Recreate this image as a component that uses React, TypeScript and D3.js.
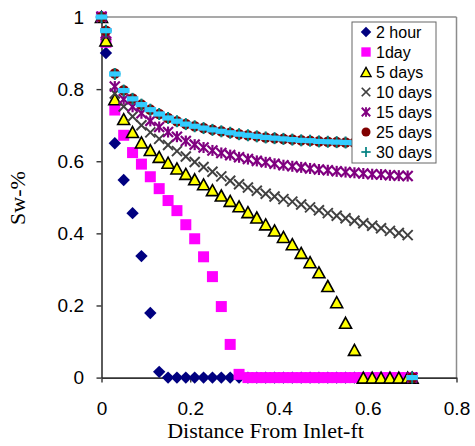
import React, { useEffect, useRef } from 'react';
import * as d3 from 'd3';

// distance from inlet (ft): inlet boundary, block centres, outlet boundary
const distance = [
  0, 0.01, 0.03, 0.05, 0.07, 0.09, 0.11, 0.13, 0.15, 0.17,
  0.19, 0.21, 0.23, 0.25, 0.27, 0.29, 0.31, 0.33, 0.35, 0.37,
  0.39, 0.41, 0.43, 0.45, 0.47, 0.49, 0.51, 0.53, 0.55, 0.57,
  0.59, 0.61, 0.63, 0.65, 0.67, 0.69, 0.7,
];

const hour2 = [
  1, 0.9, 0.65, 0.548, 0.456, 0.337, 0.179, 0.016, 0, 0,
  0, 0, 0, 0, 0, 0, 0, 0, 0, 0,
  0, 0, 0, 0, 0, 0, 0, 0, 0, 0,
  0, 0, 0, 0, 0, 0, 0,
];

const day1 = [
  1, 0.93, 0.742, 0.672, 0.624, 0.592, 0.557, 0.524, 0.491, 0.463,
  0.424, 0.385, 0.335, 0.28, 0.197, 0.092, 0.009, 0, 0, 0,
  0, 0, 0, 0, 0, 0, 0, 0, 0, 0,
  0, 0, 0, 0, 0, 0, 0,
];

const day5 = [
  1, 0.935, 0.772, 0.717, 0.681, 0.652, 0.631, 0.612, 0.596, 0.58,
  0.565, 0.55, 0.536, 0.52, 0.505, 0.49, 0.475, 0.459, 0.444, 0.425,
  0.408, 0.39, 0.37, 0.346, 0.32, 0.292, 0.254, 0.209, 0.152, 0.077,
  0, 0, 0, 0, 0, 0, 0,
];

const day10 = [
  1, 0.95, 0.788, 0.752, 0.724, 0.7, 0.68, 0.662, 0.645, 0.628,
  0.613, 0.598, 0.584, 0.571, 0.558, 0.546, 0.536, 0.527, 0.518, 0.51,
  0.502, 0.495, 0.488, 0.48, 0.472, 0.464, 0.456, 0.449, 0.442, 0.435,
  0.428, 0.421, 0.414, 0.407, 0.401, 0.395, 0,
];

const day15 = [
  1, 0.955, 0.807, 0.772, 0.751, 0.733, 0.712, 0.695, 0.681, 0.668,
  0.656, 0.646, 0.638, 0.63, 0.623, 0.617, 0.611, 0.606, 0.601, 0.597,
  0.593, 0.589, 0.586, 0.583, 0.58, 0.577, 0.575, 0.572, 0.57, 0.568,
  0.566, 0.564, 0.563, 0.561, 0.56, 0.559, 0,
];

const day25 = [
  1, 0.962, 0.843, 0.797, 0.774, 0.757, 0.743, 0.731, 0.72, 0.711,
  0.703, 0.697, 0.692, 0.687, 0.683, 0.679, 0.675, 0.672, 0.669, 0.666,
  0.664, 0.662, 0.66, 0.658, 0.657, 0.655, 0.654, 0.653, 0.652, 0.651,
  0.65, 0.649, 0.648, 0.647, 0.646, 0.645, 0,
];

const day30 = [
  1, 0.962, 0.842, 0.796, 0.773, 0.757, 0.743, 0.731, 0.72, 0.711,
  0.703, 0.697, 0.692, 0.687, 0.683, 0.679, 0.675, 0.672, 0.669, 0.666,
  0.664, 0.662, 0.66, 0.658, 0.657, 0.655, 0.654, 0.653, 0.652, 0.651,
  0.65, 0.649, 0.648, 0.647, 0.646, 0.645, 0,
];

const seriesNames = ['2 hour', '1day', '5 days', '10 days', '15 days', '25 days', '30 days'];
const seriesValues = [hour2, day1, day5, day10, day15, day25, day30];
const markerTypes = ['diamond', 'square', 'triangle', 'cross', 'star', 'circle', 'plus'];

const xTicks = [0, 0.2, 0.4, 0.6, 0.8];
const yTicks = [0, 0.2, 0.4, 0.6, 0.8, 1];

const sans = 'Liberation Sans, Arial, sans-serif';
const serif = 'Liberation Serif, Times New Roman, serif';

// draws one marker into g, centred on (cx, cy)
function marker(g, type, cx, cy, k = 1, legend = false) {
  const m = g.append('g').attr('transform', `translate(${cx},${cy}) scale(${k})`);
  const line = (x1, y1, x2, y2, color, w) =>
    m.append('line').attr('x1', x1).attr('y1', y1).attr('x2', x2).attr('y2', y2)
      .attr('stroke', color).attr('stroke-width', w);

  if (type === 'diamond') {
    m.append('path').attr('d', 'M0,-6.2L6.2,0L0,6.2L-6.2,0Z').attr('fill', '#000080');
  } else if (type === 'square') {
    m.append('rect').attr('x', -5.5).attr('y', -5.5).attr('width', 11).attr('height', 11).attr('fill', '#ff00ff');
  } else if (type === 'triangle') {
    m.append('path').attr('d', 'M0,-5.5L6,5.5L-6,5.5Z')
      .attr('fill', '#ffff00').attr('stroke', '#000').attr('stroke-width', 1.6).attr('stroke-linejoin', 'miter');
  } else if (type === 'cross') {
    line(-5, -5, 5, 5, '#404040', 2);
    line(-5, 5, 5, -5, '#404040', 2);
  } else if (type === 'star') {
    line(-5, -5, 5, 5, '#800080', 2.2);
    line(-5, 5, 5, -5, '#800080', 2.2);
    line(0, -5.5, 0, 5.5, '#800080', 2.2);
  } else if (type === 'circle') {
    m.append('circle').attr('r', 5.3).attr('fill', '#800000');
  } else if (type === 'plus') {
    line(-5.5, 0, 5.5, 0, '#008080', 2);
    line(0, -6, 0, 6, '#008080', 2);
    if (!legend) {
      m.append('rect').attr('x', -5.8).attr('y', -2.6).attr('width', 11.6).attr('height', 5.2).attr('fill', '#33ccff');
    }
  }
}

const App = () => {
  const svgRef = useRef(null);

  useEffect(() => {
    const svg = d3.select(svgRef.current);
    svg.selectAll('*').remove();

    const x = d3.scaleLinear().domain([0, 0.8]).range([101.5, 456.5]);
    const y = d3.scaleLinear().domain([0, 1]).range([377.6, 17]);

    // plot frame (top / right in grey)
    svg.append('line').attr('x1', x(0)).attr('x2', x(0.8)).attr('y1', y(1)).attr('y2', y(1))
      .attr('stroke', '#8c8c8c').attr('stroke-width', 1.5);
    svg.append('line').attr('x1', x(0.8)).attr('x2', x(0.8)).attr('y1', y(1)).attr('y2', y(0))
      .attr('stroke', '#8c8c8c').attr('stroke-width', 1.5);

    const yAxis = svg.append('g')
      .attr('transform', `translate(${x(0)},0)`)
      .call(d3.axisLeft(y).tickValues(yTicks).tickSize(5).tickSizeOuter(0).tickPadding(12.5)
        .tickFormat(d => String(d)));
    yAxis.select('.domain').attr('stroke', '#333').attr('stroke-width', 1.6);
    yAxis.selectAll('.tick line').attr('stroke', '#333').attr('stroke-width', 1.4);
    yAxis.selectAll('.tick text').attr('font-family', sans).attr('font-size', 19).attr('fill', '#000');

    const xAxis = svg.append('g')
      .attr('transform', `translate(0,${y(0)})`)
      .call(d3.axisBottom(x).tickValues(xTicks).tickSize(5).tickSizeOuter(0).tickPadding(19)
        .tickFormat(d => String(d)));
    xAxis.select('.domain').attr('stroke', '#333').attr('stroke-width', 1.6);
    xAxis.selectAll('.tick line').attr('stroke', '#333').attr('stroke-width', 1.4);
    xAxis.selectAll('.tick text').attr('font-family', sans).attr('font-size', 19).attr('fill', '#000');

    // series, later ones drawn on top
    const plot = svg.append('g');
    seriesValues.forEach((values, i) => {
      const g = plot.append('g').attr('class', 'series');
      values.forEach((v, j) => marker(g, markerTypes[i], x(distance[j]), y(v)));
    });

    // legend
    const legend = svg.append('g');
    legend.append('rect').attr('x', 352).attr('y', 22).attr('width', 84).attr('height', 141)
      .attr('fill', '#fff').attr('stroke', '#666').attr('stroke-width', 1);
    seriesNames.forEach((name, i) => {
      const cy = 32 + i * 20;
      marker(legend, markerTypes[i], 366, cy, 0.85, true);
      legend.append('text').attr('x', 376).attr('y', cy).attr('dy', '0.35em')
        .attr('font-family', sans).attr('font-size', 16).attr('fill', '#000').text(name);
    });

    // axis titles
    svg.append('text').attr('x', 265.5).attr('y', 438).attr('text-anchor', 'middle')
      .attr('font-family', serif).attr('font-size', 22).attr('fill', '#000')
      .text('Distance From Inlet-ft');
    svg.append('text').attr('transform', 'translate(25,198) rotate(-90)').attr('text-anchor', 'middle')
      .attr('font-family', serif).attr('font-size', 22).attr('fill', '#000')
      .text('Sw-%');
  }, []);

  return (
    <svg ref={svgRef} width={475} height={446} style={{ position: 'absolute', left: 0, top: 0, background: '#fff' }} />
  );
};

export default App;
